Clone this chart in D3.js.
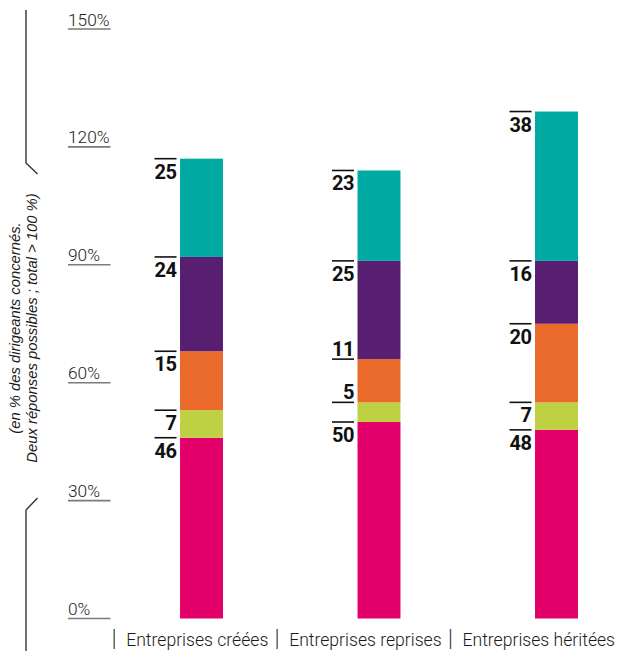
<!DOCTYPE html>
<html><head><meta charset="utf-8">
<script src="https://cdn.jsdelivr.net/npm/d3@7/dist/d3.min.js"></script>
<style>
html,body{margin:0;padding:0;background:#fff;}
svg{display:block;}
</style></head>
<body>
<script>
// ---- data ----
const categories = ["Entreprises créées", "Entreprises reprises", "Entreprises héritées"];
const seriesNames = ["Série 1", "Série 2", "Série 3", "Série 4", "Série 5"];
const serie1 = [46, 50, 48];
const serie2 = [7, 5, 7];
const serie3 = [15, 11, 20];
const serie4 = [24, 25, 16];
const serie5 = [25, 23, 38];
const tickValues = [0, 30, 60, 90, 120, 150];
const tickLabels = ["0%", "30%", "60%", "90%", "120%", "150%"];
const axisNote = ["(en % des dirigeants concernés.", "Deux réponses possibles ; total > 100 %)"];

const colors = ["#E3006B", "#BED143", "#EA6A2B", "#581E72", "#00AAA3"];
// labels drawn above their line instead of below (crowded segments)
const aboveLabels = new Set(["Entreprises reprises|2", "Entreprises reprises|1"]);

const W = 643, H = 651;
const svg = d3.select("body").append("svg").attr("width", W).attr("height", H);

const table = categories.map((c, i) => ({
  cat: c,
  "Série 1": serie1[i], "Série 2": serie2[i], "Série 3": serie3[i],
  "Série 4": serie4[i], "Série 5": serie5[i]
}));
const stack = d3.stack().keys(seriesNames)(table);

const x = d3.scaleBand().domain(categories).range([112.75, 645.25])
  .paddingInner(0.758).paddingOuter(0.379);
const y = d3.scaleLinear().domain([0, 150]).range([618.5, 29]);

// y ticks: label + underline
const yt = svg.append("g");
tickValues.forEach((v, i) => {
  yt.append("line").attr("x1", 68).attr("x2", 110.5)
    .attr("y1", y(v)).attr("y2", y(v))
    .attr("stroke", "#7a7a7a").attr("stroke-width", 1.6);
  yt.append("text").attr("x", 68).attr("y", y(v) - 3.5)
    .attr("font-family", "Roboto, sans-serif").attr("font-weight", 300)
    .attr("font-size", 17.3).attr("fill", "#222").text(tickLabels[i]);
});

// bracket + note
svg.append("path").attr("d", "M26,10 V163 L37.5,174 M37.5,498 L26,510 V651")
  .attr("fill", "none").attr("stroke", "#333").attr("stroke-width", 1.4);
const note = svg.append("text")
  .attr("transform", "translate(0,328) rotate(-90)")
  .attr("font-family", "'Liberation Sans', Arial, sans-serif")
  .attr("font-style", "italic").attr("font-size", 14.8).attr("fill", "#1a1a1a")
  .attr("text-anchor", "middle");
note.append("tspan").attr("x", 0).attr("y", 20).text(axisNote[0]);
note.append("tspan").attr("x", 0).attr("y", 36.5).text(axisNote[1]);

// bars
const g = svg.append("g");
stack.forEach((layer, si) => {
  g.selectAll(null).data(layer).enter().append("rect")
    .attr("x", d => x(d.data.cat))
    .attr("width", x.bandwidth())
    .attr("y", d => y(d[1]))
    .attr("height", d => y(d[0]) - y(d[1]))
    .attr("fill", colors[si]);
});

// value labels with overline
const lab = svg.append("g");
stack.forEach((layer, si) => {
  layer.forEach(d => {
    const left = x(d.data.cat);
    const ly = y(d[1]);
    const above = aboveLabels.has(d.data.cat + "|" + si);
    lab.append("line").attr("x1", left - 25.5).attr("x2", left - 3.5)
      .attr("y1", ly).attr("y2", ly).attr("stroke", "#111").attr("stroke-width", 1.6);
    lab.append("text").attr("x", left - 3.5)
      .attr("y", above ? ly - 3.5 : ly + 20)
      .attr("text-anchor", "end")
      .attr("font-family", "Roboto, sans-serif").attr("font-weight", 700)
      .attr("font-size", 20).attr("letter-spacing", -0.5).attr("fill", "#111")
      .text(d[1] - d[0]);
  });
});

// x labels
const xl = d3.scalePoint().domain(categories).range([268.3, 615]);
categories.forEach(c => {
  const t = svg.append("text").attr("x", xl(c)).attr("y", 646)
    .attr("text-anchor", "end")
    .attr("font-family", "Roboto, sans-serif").attr("font-weight", 300)
    .attr("font-size", 17.6).attr("fill", "#1a1a1a").text(c);
  const w = t.node().getComputedTextLength();
  const sx = xl(c) - w - 12;
  svg.append("line").attr("x1", sx).attr("x2", sx).attr("y1", 629).attr("y2", 649)
    .attr("stroke", "#555").attr("stroke-width", 1.4);
});
</script>
</body></html>
